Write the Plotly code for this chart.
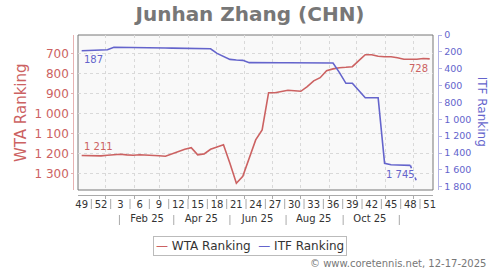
import pandas as pd
import plotly.graph_objects as go

# ---------------- data ----------------
wta = [1211, 1212, 1212, 1213, 1210, 1208, 1205, 1208, 1210, 1207, 1208, 1210, 1212, 1215,
       1203, 1190, 1180, 1172, 1208, 1203, 1180, 1168, 1157,
       1250, 1350, 1315, 1220, 1133, 1083,
       897, 897, 892, 885, 887, 890, 867, 838, 822,
       787, 778, 772, 770, 767, 737, 707, 707,
       715, 717, 717, 722, 730, 730, 730, 726, 728]
itf = [187, 183, 182, 182, 175, 146, 146, 148, 150, 152,
       154, 154, 154, 154, 156, 158, 160, 162, 164, 164, 164,
       218, 257, 289, 297, 301, 328,
       330, 330, 330, 330, 330, 330, 331, 331, 332, 332, 332, 332, 332,
       447, 573, 573, 660, 744, 744, 744,
       1523, 1539, 1542, 1542, 1547, 1745, None, None]
first_week = "2024-12-06"
week_labels = ["49", "52", "3", "6", "9", "12", "15", "18", "21", "24", "27",
               "30", "33", "36", "39", "42", "45", "48", "51"]
month_label_dates = ["2025-02-15", "2025-04-15", "2025-06-15", "2025-08-15", "2025-10-15"]
month_sep_dates = ["2025-01-16", "2025-03-16", "2025-05-16", "2025-07-16", "2025-09-16", "2025-11-16"]
series_names = ["WTA Ranking", "ITF Ranking"]
title = "Junhan Zhang (CHN)"
credit = "© www.coretennis.net, 12-17-2025"

dates = pd.date_range(first_week, periods=len(wta), freq="7D")
itf_last = max(i for i, v in enumerate(itf) if v is not None)

WTA_C = "#cc6262"
ITF_C = "#6464cc"
FONT = "DejaVu Sans"

def fmt(v):
    return f"{v:,}".replace(",", " ")

fig = go.Figure()
fig.add_trace(go.Scatter(x=dates, y=wta, mode="lines", name=series_names[0],
                         line=dict(color=WTA_C, width=1.6), yaxis="y"))
fig.add_trace(go.Scatter(x=dates[:itf_last], y=itf[:itf_last], mode="lines", name=series_names[1],
                         line=dict(color=ITF_C, width=1.6), yaxis="y2"))
fig.add_trace(go.Scatter(x=dates[itf_last - 1:itf_last + 1], y=itf[itf_last - 1:itf_last + 1],
                         mode="lines", showlegend=False,
                         line=dict(color=ITF_C, width=1.6, dash="3px,10px"), yaxis="y2"))
fig.add_trace(go.Scatter(x=[dates[0]], y=[None], xaxis="x2", showlegend=False, hoverinfo="skip"))

# geometry (paper: x 60..450, y 35..215)
L, R, T, B = 60, 50, 35, 55
W, H = 500, 270
pw, ph = W - L - R, H - T - B
def px(x):
    return (x - L) / pw
def py(y):
    return (H - B - y) / ph

xrange = ["2024-12-02", "2025-12-22 14:00"]
grid = dict(showgrid=True, gridcolor="#d9d9d9", griddash="3px,3px", gridwidth=1)

fig.update_layout(
    width=W, height=H,
    margin=dict(l=L, r=R, t=T, b=B, autoexpand=False),
    paper_bgcolor="white", plot_bgcolor="#f9f9f9",
    separators=". ",
    font=dict(family=FONT, color="#333"),
    title=dict(text=title, x=0.5, xref="container", xanchor="center",
               y=1 - 13.5 / H, yref="container", yanchor="middle",
               font=dict(family=FONT, size=20, color="#777", weight="bold")),
    showlegend=False,
    xaxis=dict(type="date", range=xrange, domain=[px(78), px(433)],
               anchor="free", position=py(194.5),
               tickmode="array", tickvals=list(dates[::3]), ticktext=week_labels,
               ticks="", showgrid=False, zeroline=False,
               showline=True, linecolor="#aaa", linewidth=1,
               tickfont=dict(size=10, color="#333"),
               minor=dict(tick0="2025-01-01", dtick="M1", ticks="outside", ticklen=3,
                          tickcolor="#aaa", **grid)),
    xaxis2=dict(type="date", range=xrange, overlaying="x", anchor="free", position=py(211),
                domain=[px(78), px(433)],
                tickmode="array", tickvals=month_label_dates, tickformat="%b %y",
                ticks="", showline=False, showgrid=False, zeroline=False,
                tickfont=dict(size=10, color="#333")),
    yaxis=dict(range=[1383.5, 608.5], domain=[py(190), 1], anchor="free", position=px(73.3),
               side="left", dtick=100, tick0=700, separatethousands=True,
               showline=True, linecolor="#e6b2b2", linewidth=1,
               ticks="outside", ticklen=2, tickcolor="#e6b2b2",
               tickfont=dict(size=12, color=WTA_C), zeroline=False, **grid),
    yaxis2=dict(range=[1839, 0], overlaying="y", anchor="free", position=px(438.3),
                side="right", dtick=200, tick0=0, separatethousands=True,
                showline=True, linecolor="#b2b2e6", linewidth=1,
                ticks="outside", ticklen=3, tickcolor="#b2b2e6",
                tickfont=dict(size=9.5, color=ITF_C), showgrid=False, zeroline=False),
)

shapes = []
# plot frame
shapes.append(dict(type="rect", xref="paper", yref="paper", x0=px(78), x1=px(433),
                   y0=py(190), y1=1, line=dict(color="#777", width=1), layer="below"))
# week label separators
for d in dates[:-3:3]:
    xm = d + pd.Timedelta(days=10.5)
    shapes.append(dict(type="line", xref="x", yref="paper", x0=xm, x1=xm,
                       y0=py(199), y1=py(209), line=dict(color="#aaa", width=1)))
# month label separators
for d in month_sep_dates:
    shapes.append(dict(type="line", xref="x", yref="paper", x0=d, x1=d,
                       y0=py(215), y1=py(225), line=dict(color="#aaa", width=1)))
fig.update_layout(shapes=shapes)

legend_text = (f"<span style='color:{WTA_C}'>—</span> {series_names[0]}  "
               f"<span style='color:{ITF_C}'>—</span> {series_names[1]}")

ann = [
    dict(x=dates[0], y=wta[0], xref="x", yref="y", text=fmt(wta[0]), xanchor="left",
         yanchor="middle", yshift=9, font=dict(size=10, color=WTA_C)),
    dict(x=dates[-1], y=wta[-1], xref="x", yref="y", text=fmt(wta[-1]), xanchor="right",
         yanchor="middle", yshift=-9.5, font=dict(size=10, color=WTA_C)),
    dict(x=dates[0], y=itf[0], xref="x", yref="y2", text=fmt(itf[0]), xanchor="left",
         yanchor="middle", yshift=-9, font=dict(size=10, color=ITF_C)),
    dict(x=dates[itf_last], y=itf[itf_last], xref="x", yref="y2", text=fmt(itf[itf_last]),
         xanchor="right", yanchor="middle", yshift=7.5, font=dict(size=10, color=ITF_C)),
    dict(x=px(20.5), y=py(112.5), xref="paper", yref="paper", text="WTA Ranking",
         textangle=-90, xanchor="center", yanchor="middle", font=dict(size=15, color=WTA_C)),
    dict(x=px(482), y=py(111.7), xref="paper", yref="paper", text="ITF Ranking",
         textangle=90, xanchor="center", yanchor="middle", font=dict(size=12, color=ITF_C)),
    dict(x=px(249.5), y=py(245.5), xref="paper", yref="paper", text=legend_text,
         xanchor="center", yanchor="middle", font=dict(size=12, color="#333"),
         bordercolor="#bbb", borderwidth=1, borderpad=2, bgcolor="white"),
    dict(x=px(488), y=py(263.3), xref="paper", yref="paper", text=credit,
         xanchor="right", yanchor="middle", font=dict(size=10, color="#777")),
]
for a in ann:
    a["showarrow"] = False
fig.update_layout(annotations=ann)

fig.write_html("out.html")
